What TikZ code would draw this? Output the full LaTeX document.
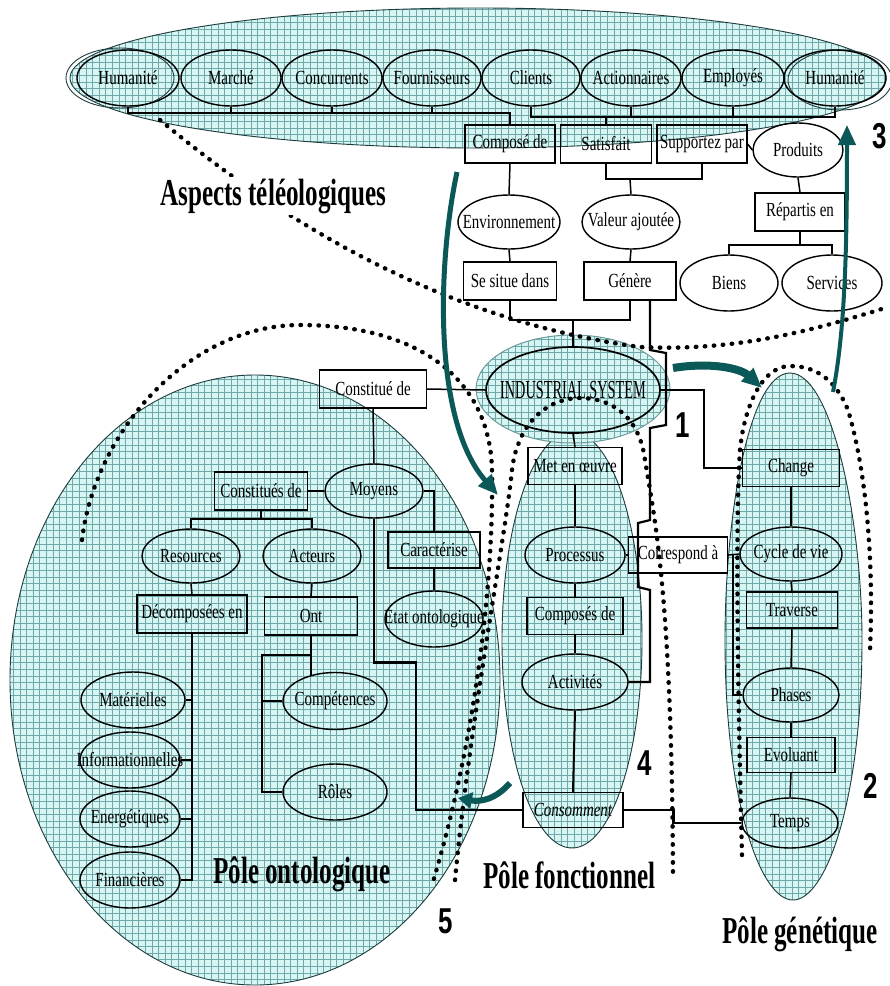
\documentclass[tikz,border=0pt]{standalone}
\usepackage{fontspec}
\setmainfont{Liberation Serif}
\newfontfamily\nf[FakeStretch=0.75]{Liberation Serif}
\newfontfamily\isf[FakeStretch=0.55]{Liberation Serif}
\newfontfamily\bigf[FakeStretch=0.66]{Liberation Serif}
\newfontfamily\numf[FakeStretch=0.72]{Liberation Sans}
\usetikzlibrary{shapes.geometric,arrows.meta,patterns.meta,calc}
\definecolor{gridbg}{RGB}{214,245,243}
\definecolor{gridln}{RGB}{110,168,168}
\definecolor{tealdk}{RGB}{10,88,88}
\definecolor{regline}{RGB}{30,60,60}
\tikzdeclarepattern{
  name=cgrid,
  type=uncolored,
  bottom left={(-0.5pt,-0.5pt)},
  top right={(7pt,7pt)},
  tile size={(6.6pt,6.6pt)},
  code={\draw[line width=0.45pt] (-0.5pt,0pt) -- (7pt,0pt) (0pt,-0.5pt) -- (0pt,7pt);}
}
\newcommand\mkz[1]{\makebox[0pt]{#1}}
\tikzset{
  region/.style={preaction={fill=gridbg}, pattern=cgrid, pattern color=gridln, draw=regline, line width=0.9pt},
  eli/.style={ellipse, draw, line width=1.4pt, inner sep=0pt, font=\nf\fontsize{20}{21}\selectfont},
  box/.style={rectangle, draw, line width=1.4pt, inner sep=0pt, minimum height=37pt, font=\nf\fontsize{20}{21}\selectfont},
  conn/.style={line width=1.5pt},
  heavy/.style={line width=2.6pt},
  dots/.style={line width=4.4pt, dash pattern=on 0.5pt off 8.5pt, line cap=round},
  tarrow/.style={draw=tealdk, line width=5pt, -{Triangle[length=20pt,width=17pt]}},
  biglab/.style={font=\bigf\bfseries\fontsize{38}{40}\selectfont, inner sep=0pt},
  numlab/.style={font=\numf\bfseries\fontsize{36}{38}\selectfont, inner sep=0pt},
}
\begin{document}
\begin{tikzpicture}[x=1pt,y=-1pt]
\useasboundingbox (0,0) rectangle (890,986);
\fill[white] (0,0) rectangle (890,986);

% ---------- regions ----------
\path[region] (478,78) ellipse [x radius=408pt, y radius=70pt];
\path[region] (255,680) ellipse [x radius=245pt, y radius=305pt];
\path[region] (572,640) ellipse [x radius=70pt, y radius=208pt];
\path[region] (790,373) .. controls (748,373) and (725,520) .. (725,640)
  .. controls (725,800) and (760,900) .. (793,900)
  .. controls (826,900) and (862,800) .. (862,640)
  .. controls (862,520) and (832,373) .. (790,373) -- cycle;
\path[region, draw=tealdk!60, line width=1pt] (573,389) ellipse [x radius=97pt, y radius=54pt];
\draw[regline, line width=0.9pt] (120,78) ellipse [x radius=54pt, y radius=30pt];
\draw[regline, line width=0.9pt] (840,80) ellipse [x radius=52pt, y radius=30pt];

% ---------- dotted boundaries ----------
\draw[dots] (160,120) .. controls (280,220) and (440,320) .. (640,347) .. controls (740,352) and (820,328) .. (885,308);
\draw[dots] (82,540) .. controls (95,430) and (190,325) .. (300,325) .. controls (420,325) and (490,380) .. (492,470) .. controls (494,600) and (470,760) .. (432,885);
\draw[dots] (455,880) .. controls (470,720) and (505,540) .. (512,470) .. controls (518,420) and (550,398) .. (580,398) .. controls (615,398) and (640,420) .. (645,460) .. controls (655,520) and (672,600) .. (673,880);
\draw[dots] (742,855) .. controls (738,700) and (735,520) .. (740,450) .. controls (745,400) and (765,366) .. (790,366) .. controls (820,366) and (838,385) .. (848,410) .. controls (866,470) and (874,560) .. (870,650);

% ---------- top row ----------
\node[eli, minimum width=102pt, minimum height=56pt] (hum1) at (128,78) {\mkz{Humanité}};
\node[eli, minimum width=100pt, minimum height=56pt] (mar) at (231,78) {\mkz{Marché}};
\node[eli, minimum width=100pt, minimum height=56pt] (con) at (332,78) {\mkz{Concurrents}};
\node[eli, minimum width=98pt, minimum height=56pt] (fou) at (432,78) {\mkz{Fournisseurs}};
\node[eli, minimum width=98pt, minimum height=56pt] (cli) at (531,78) {\mkz{Clients}};
\node[eli, minimum width=100pt, minimum height=56pt] (act) at (631,78) {\mkz{Actionnaires}};
\node[eli, minimum width=102pt, minimum height=56pt] (emp) at (733,78) {\mkz{Employés}};
\node[eli, minimum width=102pt, minimum height=56pt] (hum2) at (835,78) {\mkz{Humanité}};

\node[box, minimum width=90pt, minimum height=38pt] (comp) at (510,144) {\mkz{Composé de}};
\node[box, minimum width=91pt, minimum height=38pt] (sat) at (606,144) {\mkz{Satisfait}};
\node[box, minimum width=90pt, minimum height=38pt] (sup) at (702,144) {\mkz{Supportez par}};
\node[eli, minimum width=90pt, minimum height=54pt] (prod) at (798,150) {\mkz{Produits}};

\node[eli, minimum width=102pt, minimum height=54pt] (env) at (509,222) {\mkz{Environnement}};
\node[eli, minimum width=98pt, minimum height=54pt] (val) at (631,222) {\mkz{Valeur ajoutée}};
\node[box, minimum width=90pt, minimum height=38pt] (rep) at (800,212) {\mkz{Répartis en}};
\node[eli, minimum width=98pt, minimum height=56pt] (biens) at (729,283) {\mkz{Biens}};
\node[eli, minimum width=100pt, minimum height=56pt] (serv) at (832,283) {\mkz{Services}};
\node[box, minimum width=93pt, minimum height=38pt] (situe) at (510,281) {\mkz{Se situe dans}};
\node[box, minimum width=92pt, minimum height=38pt] (gen) at (630,281) {\mkz{Génère}};

% ---------- centre ----------
\node[eli, minimum width=174pt, minimum height=86pt, line width=1.7pt, font=\isf\fontsize{26}{28}\selectfont] (is) at (573,390) {\mkz{INDUSTRIAL SYSTEM}};
\node[box, minimum width=107pt, minimum height=38pt] (const) at (373,389) {\mkz{Constitué de}};

% ---------- ontological pole ----------
\node[eli, minimum width=98pt, minimum height=54pt] (moy) at (374,491) {\mkz{Moyens}};
\node[box, minimum width=93pt, minimum height=38pt] (consts) at (261,491) {\mkz{Constitués de}};
\node[eli, minimum width=98pt, minimum height=54pt] (res) at (191,556) {\mkz{Resources}};
\node[eli, minimum width=98pt, minimum height=54pt] (acteurs) at (312,556) {\mkz{Acteurs}};
\node[box, minimum width=110pt, minimum height=38pt] (decomp) at (192,614) {\mkz{Décomposées en}};
\node[box, minimum width=93pt, minimum height=38pt] (ont) at (311,616) {\mkz{Ont}};
\node[eli, minimum width=104pt, minimum height=56pt] (mat) at (133,700) {\mkz{Matérielles}};
\node[eli, minimum width=100pt, minimum height=56pt] (info) at (130,760) {\mkz{Informationnelles}};
\node[eli, minimum width=100pt, minimum height=56pt] (ener) at (130,819) {\mkz{Energétiques}};
\node[eli, minimum width=100pt, minimum height=56pt] (fin) at (130,880) {\mkz{Financières}};
\node[eli, minimum width=104pt, minimum height=57pt] (compet) at (335,701) {\mkz{Compétences}};
\node[eli, minimum width=104pt, minimum height=56pt] (roles) at (335,792) {\mkz{Rôles}};
\node[box, minimum width=92pt, minimum height=36pt] (carac) at (434,550) {\mkz{Caractérise}};
\node[eli, minimum width=98pt, minimum height=56pt] (etat) at (434,619) {\mkz{Etat ontologique}};

% ---------- functional pole ----------
\node[box, minimum width=94pt, minimum height=37pt] (met) at (575,466) {\mkz{Met en œuvre}};
\node[eli, minimum width=100pt, minimum height=56pt] (proc) at (575,555) {\mkz{Processus}};
\node[box, minimum width=96pt, minimum height=37pt] (compo) at (575,616) {\mkz{Composés de}};
\node[eli, minimum width=106pt, minimum height=56pt] (activ) at (575,682) {\mkz{Activités}};
\node[box, minimum width=100pt, minimum height=35pt] (consom) at (573,810) {\mkz{\itshape Consomment}};
\node[box, minimum width=99pt, minimum height=36pt] (corr) at (678,555) {\mkz{Correspond à}};

% ---------- genetic pole ----------
\node[box, minimum width=97pt, minimum height=37pt] (change) at (791,468) {\mkz{Change}};
\node[eli, minimum width=102pt, minimum height=54pt] (cycle) at (791,554) {\mkz{Cycle de vie}};
\node[box, minimum width=91pt, minimum height=36pt] (trav) at (792,610) {\mkz{Traverse}};
\node[eli, minimum width=96pt, minimum height=54pt] (phases) at (791,695) {\mkz{Phases}};
\node[box, minimum width=88pt, minimum height=35pt] (evol) at (791,755) {\mkz{Evoluant}};
\node[eli, minimum width=96pt, minimum height=50pt] (temps) at (790,823) {\mkz{Temps}};

% ---------- connectors ----------
\coordinate (bL) at (510,113);
\draw[conn] (hum1.south) |- (bL) -- (comp.north);
\draw[conn] (mar.south) -- (mar.south |- bL);
\draw[conn] (con.south) -- (con.south |- bL);
\draw[conn] (fou.south) -- (fou.south |- bL);
\coordinate (bR) at (606,117);
\draw[conn] (cli.south) |- (hum2.south |- bR) -- (hum2.south);
\draw[conn] (act.south) -- (act.south |- bR);
\draw[conn] (emp.south) -- (emp.south |- bR);
\draw[conn] (bR) -- (sat.north);
\draw[conn] (sup.east) -- (prod.west);
\draw[conn] (comp.south) -- (env.north);
\coordinate (bS) at (630,179);
\draw[conn] (sat.south) |- (sup.south |- bS) -- (sup.south);
\draw[conn] (bS) -- (val.north);
\draw[conn] (prod.south) -- (rep.north);
\coordinate (bB) at (800,245);
\draw[conn] (biens.north) |- (serv.north |- bB) -- (serv.north);
\draw[conn] (rep.south) -- (bB);
\draw[conn] (env.south) -- (situe.north);
\draw[conn] (val.south) -- (gen.north);
\coordinate (bI) at (573,320);
\draw[conn] (situe.south) |- (gen.south |- bI) -- (gen.south);
\draw[conn] (bI) -- (is.north);
\draw[heavy, line width=2.2pt] ($(gen.south)+(20,0)$) -- (650,350) -- (666,353) -- (666,425) -- (650,428)
  -- (650,520) -- (638,523) -- (638,587) -- (650,590) |- (activ.east);

\draw[conn] (const.east) -- (is.west);
\draw[conn] (const.south) -- (moy.north);
\draw[conn] (moy.west) -- (consts.east);
\coordinate (bM) at (261,519);
\draw[conn] (res.north) |- (acteurs.north |- bM) -- (acteurs.north);
\draw[heavy, line width=2pt] (res.north |- bM) -- (acteurs.north |- bM);
\draw[conn] (consts.south) -- (bM);
\draw[conn] (res.south) -- (decomp.north);
\draw[conn] (acteurs.south) -- (ont.north);
\draw[conn] (decomp.south) -- (decomp.south |- fin.east) -- (fin.east);
\draw[conn] (mat.east) -- (mat.east -| decomp.south);
\draw[conn] (info.east) -- (info.east -| decomp.south);
\draw[conn] (ener.east) -- (ener.east -| decomp.south);
\coordinate (oc) at ($(ont.south |- compet.center)+(0,-25)$);
\draw[conn] (ont.south) -- (oc);
\coordinate (bO) at (262,655);
\draw[conn] (ont.south |- bO) -- (bO) |- (roles.west);
\draw[conn] (compet.west) -- (compet.west -| bO);
\draw[conn] (moy.east) -| (carac.north);
\draw[conn] (carac.south) -- (etat.north);
\draw[heavy] (moy.south) -- ++(0,144) -- ++(42,0) |- (consom.west);
\draw[heavy] (consom.east) -- ++(50,0) |- (temps.west);

\draw[conn] (is.south) -- (met.north);
\draw[conn] (met.south) -- (proc.north);
\draw[conn] (proc.south) -- (compo.north);
\draw[conn] (compo.south) -- (activ.north);
\draw[heavy, line width=2pt] (activ.south) -- (consom.north);
\draw[conn] (proc.east) -- (corr.west);
\draw[conn] (corr.east) -- (cycle.west);
\draw[conn] ($(corr.east)+(5,0)$) |- (phases.west);
\draw[conn] (is.east) -- ++(43,0) |- (change.west);
\draw[conn] (change.south) -- (cycle.north);
\draw[conn] (cycle.south) -- (trav.north);
\draw[conn] (trav.south) -- (phases.north);
\draw[conn] (phases.south) -- (evol.north);
\draw[conn] (evol.south) -- (temps.north);

% ---------- teal arrows ----------
\draw[tarrow] (457,172) .. controls (438,260) and (432,420) .. (498,495);
\draw[tarrow, line width=8pt] (673,368) .. controls (710,362) and (740,368) .. (762,388);
\draw[tarrow, line width=4pt] (833,392) .. controls (845,330) and (847,250) .. (847,125);
\draw[tarrow, line width=6pt, -{Triangle[length=14pt,width=16pt]}] (510,783) .. controls (495,800) and (480,802) .. (458,798);

% ---------- labels ----------
\node[biglab, fill=white, inner sep=2pt, anchor=base west] (asp) at (158,205) {Aspects téléologiques};
\node[biglab, anchor=base west] (lonto) at (213,883) {Pôle ontologique};
\node[biglab, anchor=base west] (lfonc) at (483,888) {Pôle fonctionnel};
\node[biglab, anchor=base west] (lgene) at (722,943) {Pôle génétique};
\node[numlab, anchor=base] (n1) at (683,437) {1};
\node[numlab, anchor=base] (n2) at (871,798) {2};
\node[numlab, anchor=base] (n3) at (880,148) {3};
\node[numlab, anchor=base] (n4) at (645,775) {4};
\node[numlab, anchor=base] (n5) at (446,933) {5};
\end{tikzpicture}
\end{document}
